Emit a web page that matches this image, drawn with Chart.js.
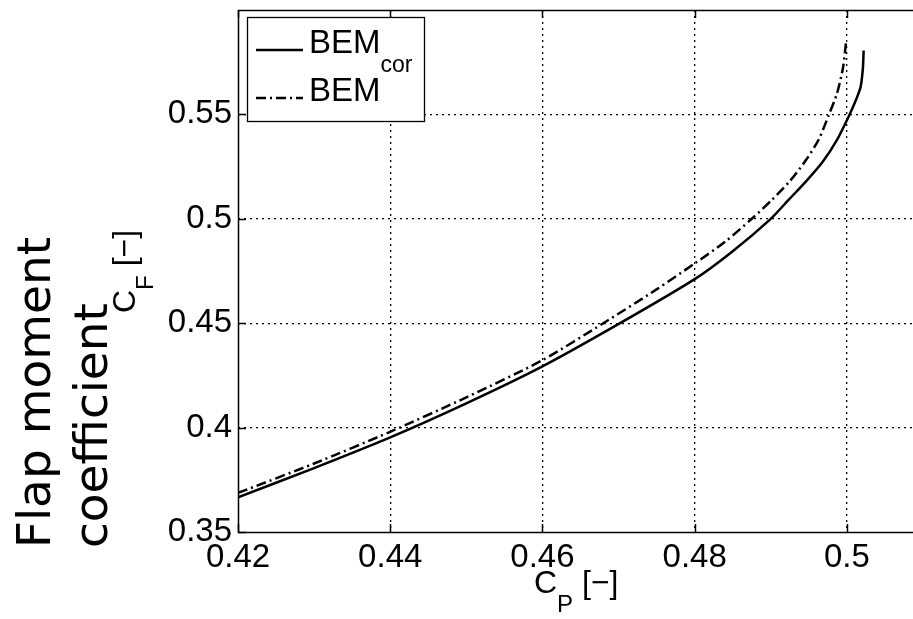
<!DOCTYPE html>
<html lang="en">
<head>
  <meta charset="UTF-8">
  <title>Flap moment coefficient vs power coefficient</title>
  <script src="https://cdn.jsdelivr.net/npm/chart.js"></script>
  <style>
    html, body { margin: 0; padding: 0; overflow: hidden; background: #fff; }
    #wrap { width: 926px; height: 619px; }
  </style>
</head>
<body>
  <div id="wrap"><canvas id="grafico" width="926" height="619"></canvas></div>

  <script>
    // BEM with correction (solid line)
    const cpCor = [0.42, 0.43, 0.44, 0.45, 0.46, 0.4702, 0.48, 0.485, 0.49, 0.4923, 0.4946, 0.4968, 0.4987, 0.5003, 0.5012, 0.5018, 0.5021, 0.5022];
    const cfCor = [0.3666, 0.3806, 0.3953, 0.4116, 0.4293, 0.45, 0.4711, 0.4845, 0.50, 0.5089, 0.5178, 0.5272, 0.5378, 0.5495, 0.557, 0.5631, 0.572, 0.5806];
    // plain BEM (dash-dot line)
    const cpBem = [0.42, 0.43, 0.44, 0.45, 0.46, 0.468, 0.475, 0.48, 0.484, 0.4875, 0.4901, 0.4925, 0.4946, 0.4963, 0.4976, 0.4987, 0.4995, 0.4999];
    const cfBem = [0.3687, 0.3828, 0.398, 0.4145, 0.4323, 0.45, 0.4662, 0.4786, 0.489, 0.50, 0.5089, 0.518, 0.528, 0.538, 0.5495, 0.56, 0.5726, 0.585];

    const xTicks = [0.42, 0.44, 0.46, 0.48, 0.5];
    const yTicks = [0.35, 0.4, 0.45, 0.5, 0.55];
    const seriesNames = [['BEM', 'cor'], ['BEM', '']];

    const fonte = '"Liberation Sans", Arial, sans-serif';

    const toPoints = (xs, ys) => xs.map((v, i) => ({ x: v, y: ys[i] }));

    // frame, inward ticks, legend and axis titles
    const moldura = {
      id: 'moldura',
      afterDatasetsDraw(chart) {
        const { ctx, chartArea: a, scales: { x, y } } = chart;
        ctx.save();
        ctx.strokeStyle = '#000';
        ctx.fillStyle = '#000';
        ctx.setLineDash([]);
        ctx.lineWidth = 1.5;

        const seg = (x1, y1, x2, y2) => {
          ctx.beginPath(); ctx.moveTo(x1, y1); ctx.lineTo(x2, y2); ctx.stroke();
        };
        xTicks.forEach(v => {
          const px = Math.round(x.getPixelForValue(v)) + 0.5;
          seg(px, a.bottom, px, a.bottom - 8);
          seg(px, a.top, px, a.top + 8);
        });
        yTicks.forEach(v => {
          const py = Math.round(y.getPixelForValue(v)) + 0.5;
          seg(a.left, py, a.left + 8, py);
          seg(a.right, py, a.right - 8, py);
        });
        ctx.strokeRect(a.left + 0.5, a.top + 0.5, a.right - a.left, a.bottom - a.top);

        // legend
        const lx = a.left + 9, ly = a.top + 7, lw = 177, lh = 104;
        ctx.fillStyle = '#fff';
        ctx.fillRect(lx, ly, lw, lh);
        ctx.strokeStyle = '#000';
        ctx.lineWidth = 1.3;
        ctx.strokeRect(lx + 0.5, ly + 0.5, lw, lh);

        const rows = [40, 88];
        chart.data.datasets.forEach((ds, i) => {
          const ry = ly + rows[i];
          ctx.strokeStyle = ds.borderColor;
          ctx.lineWidth = ds.borderWidth;
          ctx.setLineDash(ds.borderDash || []);
          seg(lx + 9, ry - 7, lx + 56, ry - 7);
          ctx.setLineDash([]);
          ctx.fillStyle = '#000';
          ctx.font = '33px ' + fonte;
          ctx.textBaseline = 'alphabetic';
          ctx.textAlign = 'left';
          ctx.fillText(seriesNames[i][0], lx + 62, ry - 4);
          const w = ctx.measureText(seriesNames[i][0]).width;
          ctx.font = '23px ' + fonte;
          ctx.fillText(seriesNames[i][1], lx + 62 + w, ry + 15);
        });

        // x axis title: C_P [-]
        ctx.font = '32px ' + fonte;
        ctx.fillText('C', 534, 593);
        let w = ctx.measureText('C').width;
        ctx.font = '24px ' + fonte;
        ctx.fillText('P', 534 + w, 612);
        const wp = ctx.measureText('P').width;
        ctx.font = '32px ' + fonte;
        ctx.fillText(' [\u2212]', 534 + w + wp, 593);

        // y axis title: C_F [-]
        ctx.save();
        ctx.translate(135, 313);
        ctx.rotate(-Math.PI / 2);
        ctx.font = '32px ' + fonte;
        ctx.fillText('C', 0, 0);
        w = ctx.measureText('C').width;
        ctx.font = '24px ' + fonte;
        ctx.fillText('F', w, 18);
        const wf = ctx.measureText('F').width;
        ctx.font = '32px ' + fonte;
        ctx.fillText(' [\u2212]', w + wf, 0);
        ctx.restore();

        // big added title
        ctx.save();
        ctx.font = '47px "DejaVu Sans", sans-serif';
        ctx.translate(50, 548);
        ctx.rotate(-Math.PI / 2);
        ctx.fillText('Flap moment', 0, 0);
        ctx.fillText('coefficient', 0, 57);
        ctx.restore();

        ctx.restore();
      }
    };

    const ctxGrafico = document.getElementById('grafico').getContext('2d');

    const grafico = new Chart(ctxGrafico, {
      type: 'scatter',
      data: {
        datasets: [
          {
            label: 'BEMcor',
            data: toPoints(cpCor, cfCor),
            showLine: true,
            borderColor: '#000',
            borderWidth: 2.5,
            borderDash: [],
            pointRadius: 0,
            tension: 0.25
          },
          {
            label: 'BEM',
            data: toPoints(cpBem, cfBem),
            showLine: true,
            borderColor: '#000',
            borderWidth: 2.5,
            borderDash: [10, 4, 2, 4],
            pointRadius: 0,
            tension: 0.25
          }
        ]
      },
      options: {
        responsive: false,
        animation: false,
        layout: { padding: { top: 10, right: 3, left: 0, bottom: 0 } },
        scales: {
          x: {
            type: 'linear',
            min: 0.42,
            max: 0.51,
            afterBuildTicks: s => { s.ticks = xTicks.map(v => ({ value: v })); },
            afterFit: s => {
              s.height = 87;
              s.paddingLeft = 0; s.paddingRight = 0;
            },
            ticks: {
              color: '#000',
              font: { family: fonte, size: 33 },
              padding: 6,
              maxRotation: 0,
              callback: v => String(v)
            },
            grid: {
              color: c => (c.tick && c.tick.value === 0.42 ? 'rgba(0,0,0,0)' : '#000'),
              lineWidth: 1.3,
              drawTicks: false
            },
            border: { display: false, dash: [2, 4] }
          },
          y: {
            type: 'linear',
            min: 0.35,
            max: 0.6,
            afterBuildTicks: s => { s.ticks = yTicks.map(v => ({ value: v })); },
            afterFit: s => {
              s.width = 238;
              s.paddingTop = 0; s.paddingBottom = 0;
            },
            ticks: {
              color: '#000',
              font: { family: fonte, size: 33 },
              padding: 6,
              callback: v => String(v)
            },
            grid: {
              color: c => (c.tick && c.tick.value === 0.35 ? 'rgba(0,0,0,0)' : '#000'),
              lineWidth: 1.3,
              drawTicks: false
            },
            border: { display: false, dash: [2, 4] }
          }
        },
        plugins: {
          legend: { display: false },
          tooltip: { enabled: false },
          title: { display: false }
        }
      },
      plugins: [moldura]
    });
  </script>
</body>
</html>
